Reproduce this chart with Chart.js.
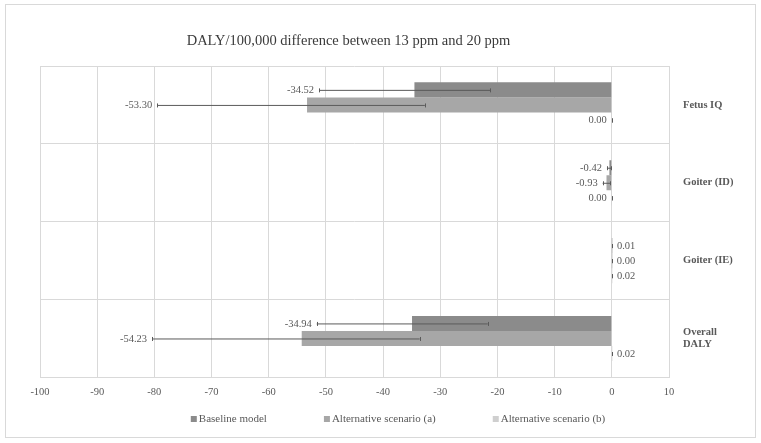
<!DOCTYPE html>
<html><head><meta charset="utf-8">
<script src="https://cdn.jsdelivr.net/npm/chart.js@4.4.1/dist/chart.umd.min.js"></script>
<style>html,body{margin:0;padding:0;background:#fff;}</style>
</head><body>
<canvas id="c" width="761" height="443"></canvas>
<script>
// ---- data ----
const chartTitle = 'DALY/100,000 difference between 13 ppm and 20 ppm';
const categories = ['Fetus IQ', 'Goiter (ID)', 'Goiter (IE)', ['Overall', 'DALY']];
const seriesNames = ['Baseline model', 'Alternative scenario (a)', 'Alternative scenario (b)'];
const baselineValues = [-34.52, -0.42, 0.01, -34.94];
const altAValues = [-53.30, -0.93, 0.001, -54.23];
const altBValues = [-0.001, -0.001, 0.02, 0.02];
const baselineLow = [-51.2, -0.85, 0.01, -51.6];
const baselineHigh = [-21.3, -0.15, 0.01, -21.7];
const altALow = [-79.5, -1.6, 0.001, -80.4];
const altAHigh = [-32.7, -0.25, 0.001, -33.6];
const altBLow = [-0.001, -0.001, 0.02, 0.02];
const altBHigh = [-0.001, -0.001, 0.02, 0.02];
const xMin = -100, xMax = 10, xStep = 10;
const seriesColors = ['#8b8b8b', '#a7a7a7', '#cfcfcf'];

const FONT = '"Liberation Serif", "Times New Roman", serif';
const TXT = '#595959';
const GRID = '#d9d9d9';

const errLow = [baselineLow, altALow, altBLow];
const errHigh = [baselineHigh, altAHigh, altBHigh];

function fmt(v) {
  const s = v.toFixed(2);
  return (Math.abs(v) < 0.005) ? '0.00' : s;
}

const framePlugin = {
  id: 'frame',
  beforeDraw(chart) {
    const ctx = chart.ctx;
    ctx.save();
    ctx.fillStyle = '#fff';
    ctx.fillRect(0, 0, chart.width, chart.height);
    ctx.strokeStyle = GRID;
    ctx.lineWidth = 1;
    ctx.strokeRect(5.5, 4.5, chart.width - 11, chart.height - 10);
    ctx.restore();
  },
  afterDraw(chart) {
    const ctx = chart.ctx;
    const a = chart.chartArea;
    ctx.save();
    // title
    ctx.fillStyle = '#3a3a3a';
    ctx.font = '14.5px ' + FONT;
    ctx.textAlign = 'center';
    ctx.textBaseline = 'middle';
    ctx.fillText(chartTitle, (a.left + a.right) / 2 - 6, 41);
    // legend
    ctx.font = '11px ' + FONT;
    ctx.textBaseline = 'middle';
    ctx.textAlign = 'left';
    const box = 6, boxGap = 2, itemGap = 57;
    const widths = chart.data.datasets.map(d => box + boxGap + ctx.measureText(d.label).width);
    const total = widths.reduce((s, w) => s + w, 0) + itemGap * (widths.length - 1);
    let x = 398 - total / 2;
    const y = 419;
    chart.data.datasets.forEach((d, i) => {
      ctx.fillStyle = d.backgroundColor;
      ctx.fillRect(x, y - box / 2, box, box);
      ctx.fillStyle = TXT;
      ctx.fillText(d.label, x + box + boxGap, y + 0.5);
      x += widths[i] + itemGap;
    });
    ctx.restore();
  },
  afterDatasetsDraw(chart) {
    const ctx = chart.ctx;
    const xs = chart.scales.x;
    ctx.save();
    chart.data.datasets.forEach((d, di) => {
      const meta = chart.getDatasetMeta(di);
      meta.data.forEach((bar, i) => {
        const yc = bar.y;
        const lo = xs.getPixelForValue(errLow[di][i]);
        const hi = xs.getPixelForValue(errHigh[di][i]);
        ctx.strokeStyle = '#5a5a5a';
        ctx.lineWidth = 1;
        ctx.beginPath();
        ctx.moveTo(lo, yc + 0.5); ctx.lineTo(hi, yc + 0.5);
        ctx.moveTo(Math.round(lo) + 0.5, yc - 1.5); ctx.lineTo(Math.round(lo) + 0.5, yc + 2.5);
        ctx.moveTo(Math.round(hi) + 0.5, yc - 1.5); ctx.lineTo(Math.round(hi) + 0.5, yc + 2.5);
        ctx.stroke();
        const v = d.data[i];
        ctx.fillStyle = TXT;
        ctx.font = '10.5px ' + FONT;
        ctx.textBaseline = 'middle';
        if (v < 0) {
          ctx.textAlign = 'right';
          ctx.fillText(fmt(v), Math.min(lo, hi) - 5, yc + 0.5);
        } else {
          ctx.textAlign = 'left';
          ctx.fillText(fmt(v), Math.max(lo, hi) + 5, yc + 0.5);
        }
      });
    });
    ctx.restore();
  }
};

new Chart(document.getElementById('c'), {
  type: 'bar',
  data: {
    labels: categories,
    datasets: [
      { label: seriesNames[0], data: baselineValues, backgroundColor: seriesColors[0] },
      { label: seriesNames[1], data: altAValues, backgroundColor: seriesColors[1] },
      { label: seriesNames[2], data: altBValues, backgroundColor: seriesColors[2] }
    ]
  },
  options: {
    indexAxis: 'y',
    responsive: false,
    animation: false,
    devicePixelRatio: 1,
    layout: { padding: { left: 40, top: 66, right: 0, bottom: 35 } },
    datasets: { bar: { barPercentage: 1, categoryPercentage: 0.58, borderWidth: 0 } },
    plugins: {
      legend: { display: false },
      title: { display: false },
      tooltip: { enabled: false }
    },
    scales: {
      x: {
        type: 'linear',
        min: xMin, max: xMax,
        ticks: { stepSize: xStep, color: TXT, font: { family: FONT, size: 10.5 }, padding: 9 },
        grid: { color: GRID, drawTicks: false },
        border: { color: GRID },
        afterFit(s) { s.paddingLeft = 0; s.paddingRight = 0; }
      },
      y: {
        position: 'right',
        offset: true,
        ticks: { color: TXT, font: { family: FONT, size: 10.5, weight: 'bold' }, padding: 14, crossAlign: 'near' },
        grid: { color: GRID, drawTicks: false, offset: true },
        border: { color: GRID },
        afterFit(s) { s.width = 92; }
      }
    }
  },
  plugins: [framePlugin]
});
</script>
</body></html>
